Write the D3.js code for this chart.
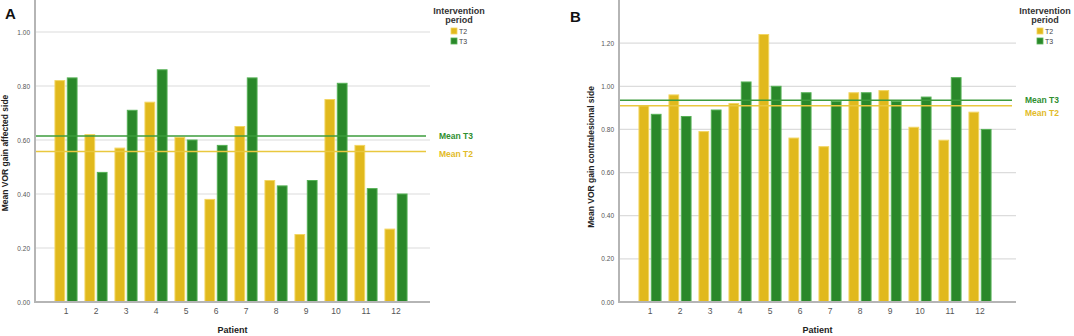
<!DOCTYPE html>
<html>
<head>
<meta charset="utf-8">
<script src="https://cdn.jsdelivr.net/npm/d3@7"></script>
<style>
  body { margin: 0; background: #fff; }
  svg { font-family: Arial, "Liberation Sans", sans-serif; }
</style>
</head>
<body>
<div id="chart"></div>
<script>
// data
const patients = ["1", "2", "3", "4", "5", "6", "7", "8", "9", "10", "11", "12"];
const periods = ["T2", "T3"];

const affectedT2 = [0.82, 0.62, 0.57, 0.74, 0.61, 0.38, 0.65, 0.45, 0.25, 0.75, 0.58, 0.27];
const affectedT3 = [0.83, 0.48, 0.71, 0.86, 0.60, 0.58, 0.83, 0.43, 0.45, 0.81, 0.42, 0.40];
const affectedMeans = [0.557, 0.615]; // T2, T3

const contraT2 = [0.91, 0.96, 0.79, 0.92, 1.24, 0.76, 0.72, 0.97, 0.98, 0.81, 0.75, 0.88];
const contraT3 = [0.87, 0.86, 0.89, 1.02, 1.00, 0.97, 0.93, 0.97, 0.93, 0.95, 1.04, 0.80];
const contraMeans = [0.91, 0.935];

const ticksA = [0, 0.2, 0.4, 0.6, 0.8, 1.0];
const ticksB = [0, 0.2, 0.4, 0.6, 0.8, 1.0, 1.2];

const fill = { T2: "#e1b91d", T3: "#2a882a" };
const edge = { T2: "#f2d562", T3: "#55b155" };
const meanCol = { T2: "#e9c83e", T3: "#3d9c3d" };

const svg = d3.select("#chart").append("svg")
  .attr("width", 1074).attr("height", 336);

function drawPanel(opt) {
  const g = svg.append("g");
  const y = d3.scaleLinear().domain([0, opt.yMax]).range([302, opt.top]);

  // gridlines
  g.selectAll(".grid").data(opt.ticks.filter(d => d > 0)).join("line")
    .attr("x1", opt.left).attr("x2", opt.right)
    .attr("y1", d => y(d)).attr("y2", d => y(d))
    .attr("stroke", "#dcdcdc").attr("stroke-width", 1.2);

  // y tick labels
  const yAxis = g.append("g").attr("transform", `translate(${opt.left},0)`)
    .call(d3.axisLeft(y).tickValues(opt.ticks).tickFormat(d3.format(".2f")).tickSize(0).tickPadding(5));
  yAxis.select(".domain").remove();
  yAxis.selectAll("text").attr("font-size", 6.5).attr("fill", "#555").attr("font-family", "Arial, 'Liberation Sans'");

  const x = d3.scaleBand().domain(patients)
    .range([opt.left + 16, opt.left + 16 + 360])
    .paddingInner(0.23).paddingOuter(0.115);
  const xs = d3.scaleBand().domain(periods).range([0, x.bandwidth()]).paddingInner(0.13);

  const rows = patients.map((p, i) => ({ p, vals: [
    { k: "T2", v: opt.t2[i] }, { k: "T3", v: opt.t3[i] }] }));

  g.selectAll(".pat").data(rows).join("g")
    .attr("transform", d => `translate(${x(d.p)},0)`)
    .selectAll("rect").data(d => d.vals).join("rect")
    .attr("x", d => xs(d.k) + 0.5)
    .attr("y", d => y(d.v))
    .attr("width", xs.bandwidth() - 1)
    .attr("height", d => 302 - y(d.v))
    .attr("fill", d => fill[d.k])
    .attr("stroke", d => edge[d.k]).attr("stroke-width", 1);

  // x tick labels
  const xAxis = g.append("g").attr("transform", "translate(0,302)")
    .call(d3.axisBottom(x).tickSize(0).tickPadding(6));
  xAxis.select(".domain").remove();
  xAxis.selectAll("text").attr("font-size", 8.5).attr("fill", "#555").attr("font-family", "Arial, 'Liberation Sans'");

  // axis lines
  g.append("line").attr("x1", opt.left).attr("x2", opt.left)
    .attr("y1", 0).attr("y2", 303).attr("stroke", "#b5b5b5").attr("stroke-width", 2);
  g.append("line").attr("x1", opt.left).attr("x2", opt.right)
    .attr("y1", 302).attr("y2", 302).attr("stroke", "#b5b5b5").attr("stroke-width", 2);

  // mean lines
  periods.forEach((k, i) => {
    const m = opt.means[i];
    g.append("line").attr("x1", opt.left + 1).attr("x2", opt.right - 4)
      .attr("y1", y(m)).attr("y2", y(m))
      .attr("stroke", meanCol[k]).attr("stroke-width", 1.5);
  });
  g.append("text").attr("x", opt.right + 9).attr("y", y(opt.means[1]) + 3)
    .attr("font-size", 8.5).attr("font-weight", "bold").attr("fill", "#2f8f2f").text("Mean T3");
  g.append("text").attr("x", opt.right + 9).attr("y", y(opt.means[0]) + opt.t2LabelDy)
    .attr("font-size", 8.5).attr("font-weight", "bold").attr("fill", "#e2bb28").text("Mean T2");

  // axis titles
  g.append("text")
    .attr("transform", `translate(${opt.titleX},${opt.titleY}) rotate(-90)`)
    .attr("text-anchor", "middle").attr("font-size", 8.5).attr("font-weight", "bold")
    .attr("fill", "#222").text(opt.yTitle);
  g.append("text").attr("x", (opt.left + opt.right) / 2).attr("y", 333)
    .attr("text-anchor", "middle").attr("font-size", 9).attr("font-weight", "bold")
    .attr("fill", "#222").text("Patient");

  // panel letter
  g.append("text").attr("x", opt.letterX).attr("y", opt.letterY)
    .attr("font-size", 15).attr("font-weight", "bold").attr("fill", "#111").text(opt.letter);

  // legend
  const lg = g.append("g").attr("transform", `translate(${opt.legendX},0)`);
  lg.append("text").attr("x", 0).attr("y", 14).attr("text-anchor", "middle")
    .attr("font-size", 9).attr("font-weight", "bold").attr("fill", "#333").text("Intervention");
  lg.append("text").attr("x", 0).attr("y", 23).attr("text-anchor", "middle")
    .attr("font-size", 9).attr("font-weight", "bold").attr("fill", "#333").text("period");
  periods.forEach((k, i) => {
    lg.append("rect").attr("x", -8).attr("y", 28 + i * 10).attr("width", 6).attr("height", 6)
      .attr("fill", fill[k]).attr("stroke", edge[k]).attr("stroke-width", 0.8);
    lg.append("text").attr("x", 0).attr("y", 34 + i * 10)
      .attr("font-size", 7).attr("fill", "#444").text(k);
  });
}

drawPanel({
  left: 35, right: 430, top: 5, yMax: 1.1, ticks: ticksA,
  t2: affectedT2, t3: affectedT3, means: affectedMeans, t2LabelDy: 5,
  yTitle: "Mean VOR gain affected side", titleX: 8, titleY: 153,
  letter: "A", letterX: 5, letterY: 19, legendX: 459
});

drawPanel({
  left: 619, right: 1016, top: 0, yMax: 1.4, ticks: ticksB,
  t2: contraT2, t3: contraT3, means: contraMeans, t2LabelDy: 10,
  yTitle: "Mean VOR gain contralesional side", titleX: 594, titleY: 157,
  letter: "B", letterX: 570, letterY: 22, legendX: 1045
});
</script>
</body>
</html>
